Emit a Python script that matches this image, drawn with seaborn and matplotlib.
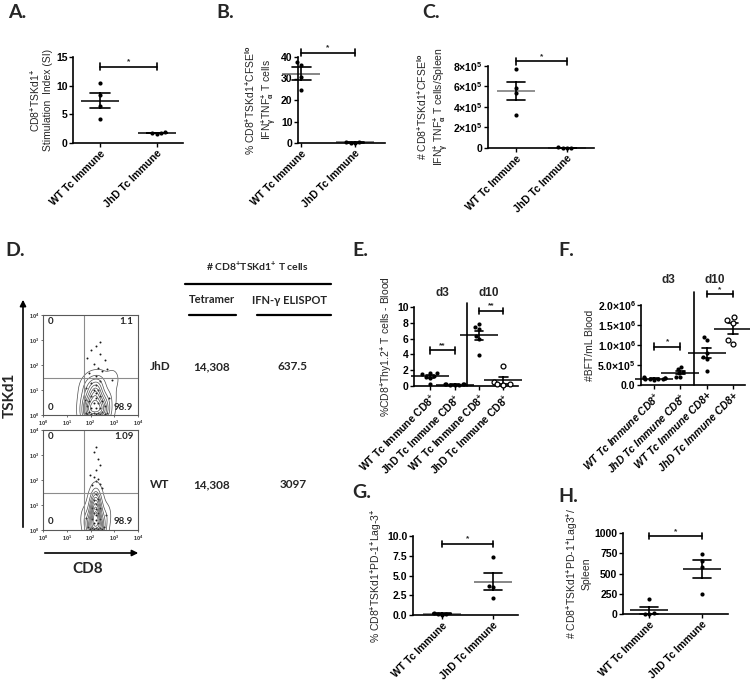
import numpy as np
import pandas as pd
import seaborn as sns
import matplotlib.pyplot as plt
from matplotlib.lines import Line2D
from matplotlib.patches import FancyArrowPatch
import matplotlib.transforms as mtrans

sns.set_theme(style="ticks")
plt.rcParams['font.family'] = ['Liberation Sans', 'DejaVu Sans']
plt.rcParams['font.weight'] = 'bold'
plt.rcParams['mathtext.fontset'] = 'custom'
plt.rcParams['mathtext.rm'] = 'Liberation Sans:bold'
plt.rcParams['mathtext.bf'] = 'Liberation Sans:bold'
plt.rcParams['mathtext.it'] = 'Liberation Sans:bold:italic'
plt.rcParams['mathtext.default'] = 'rm'

W, H = 750, 686
CALIBRI_LIKE = ['Lato', 'DejaVu Sans']

# ---- data ----
groups2 = ["WT Tc Immune", "JhD Tc Immune"]
si_wt = [10.4, 8.4, 6.5, 4.2]
si_jhd = [1.9, 1.8, 1.7, 1.6]
ifn_pct_wt = [37.5, 36.5, 30.5, 24.5]
ifn_pct_jhd = [0.2, 0.1, 0.3, 0.5]
ifn_num_wt = [7.7e5, 5.85e5, 5.4e5, 3.25e5]
ifn_num_jhd = [2e3, 1e3, 3e3, 5e3]

groups4 = ["WT d3", "JhD d3", "WT d10", "JhD d10"]
e_labels = ["WT Tc Immune CD8$^{+}$", "JhD Tc Immune CD8$^{+}$",
            "WT Tc Immune CD8$^{+}$", "JhD Tc Immune CD8$^{+}$"]
f_labels = ["WT Tc Immune CD8$^{+}$", "JhD Tc Immune CD8$^{+}$",
            "WT Tc Immune CD8+", "JhD Tc Immune CD8+"]
e_wt_d3 = [1.7, 1.6, 1.5, 1.3, 1.2, 1.0, 0.3]
e_jhd_d3 = [0.25, 0.2, 0.2, 0.2, 0.15, 0.15, 0.1]
e_wt_d10 = [7.8, 7.5, 7.2, 6.3, 5.9, 3.9]
e_jhd_d10 = [2.5, 0.5, 0.3, 0.2, 0.1]
f_wt_d3 = [1.9e5, 1.8e5, 1.7e5, 1.7e5, 1.6e5, 1.5e5, 1.5e5, 1.4e5, 1.3e5]
f_jhd_d3 = [4.6e5, 3.9e5, 3.3e5, 2.9e5, 2.0e5, 1.9e5]
f_wt_d10 = [1.21e6, 1.12e6, 0.79e6, 0.69e6, 0.64e6, 0.36e6]
f_jhd_d10 = [1.7e6, 1.62e6, 1.55e6, 1.12e6, 1.02e6]

g_wt = [0.3, 0.15, 0.1, 0.05]
g_jhd = [7.35, 3.7, 3.6, 2.2]
h_wt = [180, 10, 5, 0]
h_jhd = [744, 660, 578, 244]

# flow cytometry events (log10 CD8, log10 TSKd1)
jhd_cd8 = [1.84, 2.03, 2.22, 2.41, 2.6, 2.13, 2.32, 1.94, 2.5, 1.8, 2.7,
           2.03, 2.22, 2.41, 1.84, 2.6, 2.13, 2.32, 1.94, 2.5, 2.22, 2.03,
           2.41, 2.22, 2.13, 2.32, 2.22, 2.03, 2.41, 1.78, 2.79, 2.22, 1.94,
           2.5, 2.32, 2.13, 2.6, 1.84, 2.41, 2.03, 2.7, 2.22, 2.9, 1.8, 2.41]
jhd_tsk = [0.05, 0.05, 0.05, 0.05, 0.05, 0.1, 0.1, 0.12, 0.12, 0.08, 0.1,
           0.3, 0.3, 0.3, 0.35, 0.35, 0.5, 0.5, 0.55, 0.55, 0.7, 0.75, 0.75,
           0.9, 1.0, 1.0, 1.2, 1.3, 1.35, 0.6, 0.7, 1.55, 1.7, 1.75, 1.9,
           2.05, 2.2, 2.3, 2.45, 2.6, 1.85, 2.75, 1.4, 1.1, 2.9]
wt_cd8 = [1.97, 2.13, 2.3, 2.47, 2.22, 2.05, 2.39, 1.88, 2.56, 2.13, 2.3,
          2.22, 2.05, 2.39, 2.22, 2.13, 2.3, 2.22, 2.05, 2.39, 2.22, 2.13,
          2.3, 2.22, 2.05, 2.39, 2.22, 2.3, 2.13, 2.47, 1.97, 2.22, 2.39,
          2.3, 2.13, 2.22, 1.8, 2.65]
wt_tsk = [0.05, 0.05, 0.05, 0.05, 0.08, 0.1, 0.1, 0.12, 0.12, 0.3, 0.3, 0.4,
          0.45, 0.45, 0.6, 0.7, 0.7, 0.85, 0.9, 0.9, 1.05, 1.2, 1.25, 1.45,
          1.8, 1.85, 1.95, 2.05, 2.1, 1.7, 2.2, 2.4, 2.6, 2.85, 3.1, 3.3,
          0.5, 0.6]
jhd_quadrants = ["0", "1.1", "0", "98.9"]
wt_quadrants = ["0", "1.09", "0", "98.9"]
table_rows = ["JhD", "WT"]
tetramer_counts = ["14,308", "14,308"]
elispot_counts = ["637.5", "3097"]


def frame(keys, series):
    rows = [(k, v) for k, vals in zip(keys, series) for v in vals]
    return pd.DataFrame(rows, columns=["group", "value"])


fig = plt.figure(figsize=(W / 100, H / 100), dpi=100)


def px_axes(l, t, r, b):
    return fig.add_axes([l / W, 1 - b / H, (r - l) / W, (b - t) / H])


def ftext(x, y, s, **kw):
    fig.text(x / W, 1 - y / H, s, **kw)


def dot_panel(ax, df, order, mean_color="black", open_groups=()):
    solid = df[~df.group.isin(open_groups)]
    sns.swarmplot(data=solid, x="group", y="value", order=order, color="black",
                  size=3, ax=ax)
    if open_groups:
        sns.swarmplot(data=df[df.group.isin(open_groups)], x="group", y="value",
                      order=order, color="white", edgecolor="black",
                      linewidth=0.9, size=3.5, ax=ax)
    sns.pointplot(data=df, x="group", y="value", order=order, errorbar="se",
                  capsize=0.35, linestyle="none", marker="_", markersize=28,
                  markeredgewidth=1.1, color=mean_color,
                  err_kws={"color": "black", "linewidth": 1.2}, ax=ax)


def style(ax, xlim, ylim, yticks, yticklabels, xlabels, ylabel, italic=False):
    ax.set_xlim(xlim)
    ax.set_ylim(ylim)
    ax.set_yticks(yticks)
    ax.set_yticklabels(yticklabels)
    ax.set_xticks(range(len(xlabels)))
    ax.set_xticklabels(xlabels, rotation=45, ha="right", rotation_mode="anchor",
                       fontstyle="italic" if italic else "normal")
    sns.despine(ax=ax)
    for s in ("left", "bottom"):
        ax.spines[s].set_linewidth(1.2)
        ax.spines[s].set_color("black")
    ax.tick_params(length=3, width=1, labelsize=7.5, pad=1, colors="black")
    ax.set_xlabel("")
    ax.set_ylabel(ylabel, fontsize=7.5, labelpad=2)
    for art in list(ax.collections) + list(ax.lines):
        art.set_clip_on(False)


def bracket(ax, x0, x1, y, label):
    lo, hi = ax.get_ylim()
    h = 0.04 * (hi - lo)
    kw = dict(color="black", lw=1.2, clip_on=False)
    ax.plot([x0, x1], [y, y], **kw)
    ax.plot([x0, x0], [y - h, y + h], **kw)
    ax.plot([x1, x1], [y - h, y + h], **kw)
    ax.text((x0 + x1) / 2, y + 0.4 * h, label, ha="center", va="bottom", fontsize=6)


def day_split(ax, top, y_lab, x3, x10):
    ax.axvline(1.5, ymin=0, ymax=top, color="black", lw=1.2, clip_on=False)
    tr = mtrans.blended_transform_factory(ax.transData, ax.transAxes)
    ax.text(x3, y_lab, "d3", transform=tr, ha="center", va="center", fontsize=8.5)
    ax.text(x10, y_lab, "d10", transform=tr, ha="center", va="center", fontsize=8.5)


# ---- A ----
ax = px_axes(73, 57, 183, 143)
dot_panel(ax, frame(groups2, [si_wt, si_jhd]), groups2)
style(ax, (-0.47, 1.46), (0, 15), [0, 5, 10, 15], ["0", "5", "10", "15"], groups2,
      "CD8$^{+}$TSKd1$^{+}$\nStimulation  Index (SI)")
bracket(ax, 0, 1, 13.3, "*")

# ---- B ----
ax = px_axes(298, 57, 385, 143)
dot_panel(ax, frame(groups2, [ifn_pct_wt, ifn_pct_jhd]), groups2, mean_color="0.4")
style(ax, (-0.06, 1.56), (0, 40), [0, 10, 20, 30, 40], ["0", "10", "20", "30", "40"],
      groups2, "% CD8$^{+}$TSKd1$^{+}$CFSE$^{lo}$\nIFN$_{\\gamma}^{+}$TNF$_{\\alpha}^{+}$ T cells")
bracket(ax, 0, 1, 42, "*")

# ---- C ----
ax = px_axes(488, 66, 594, 148)
dot_panel(ax, frame(groups2, [ifn_num_wt, ifn_num_jhd]), groups2, mean_color="0.45")
style(ax, (-0.55, 1.53), (0, 8e5), [0, 2e5, 4e5, 6e5, 8e5],
      ["0", "2×10$^{5}$", "4×10$^{5}$", "6×10$^{5}$", "8×10$^{5}$"], groups2,
      "# CD8$^{+}$TSKd1$^{+}$CFSE$^{lo}$\nIFN$_{\\gamma}^{+}$ TNF$_{\\alpha}^{+}$ T cells/Spleen")
bracket(ax, 0, 1, 8.45e5, "*")

# ---- E ----
ax = px_axes(414, 307, 518, 386)
dot_panel(ax, frame(groups4, [e_wt_d3, e_jhd_d3, e_wt_d10, e_jhd_d10]), groups4,
          open_groups=("JhD d10",))
style(ax, (-0.66, 3.6), (0, 10), [0, 2, 4, 6, 8, 10], ["0", "2", "4", "6", "8", "10"],
      e_labels, "%CD8$^{+}$Thy1.2$^{+}$ T cells - Blood")
bracket(ax, 0, 1, 4.5, "**")
bracket(ax, 2, 3, 9.5, "**")
day_split(ax, 1.05, 1.18, 0.5, 2.4)

# ---- F ----
ax = px_axes(641, 305, 745, 385)
dot_panel(ax, frame(groups4, [f_wt_d3, f_jhd_d3, f_wt_d10, f_jhd_d10]), groups4,
          open_groups=("JhD d10",))
style(ax, (-0.5, 3.46), (0, 2e6), [0, 5e5, 1e6, 1.5e6, 2e6],
      ["0.0", "5.0×10$^{5}$", "1.0×10$^{6}$", "1.5×10$^{6}$", "2.0×10$^{6}$"],
      f_labels, "#BFT/mL Blood", italic=True)
bracket(ax, 0, 1, 0.96e6, "*")
bracket(ax, 2, 3, 2.27e6, "*")
day_split(ax, 1.16, 1.31, 0.53, 2.3)

# ---- G ----
ax = px_axes(413, 536, 518, 615)
dot_panel(ax, frame(groups2, [g_wt, g_jhd]), groups2, mean_color="0.4")
style(ax, (-0.57, 1.49), (0, 10), [0, 2.5, 5, 7.5, 10],
      ["0.0", "2.5", "5.0", "7.5", "10.0"], groups2,
      "% CD8$^{+}$TSKd1$^{+}$PD-1$^{+}$Lag-3$^{+}$")
bracket(ax, 0, 1, 9.0, "*")

# ---- H ----
ax = px_axes(623, 533, 728, 614)
dot_panel(ax, frame(groups2, [h_wt, h_jhd]), groups2)
style(ax, (-0.5, 1.5), (0, 1000), [0, 250, 500, 750, 1000],
      ["0", "250", "500", "750", "1000"], groups2,
      "# CD8$^{+}$TSKd1$^{+}$PD-1$^{+}$Lag3$^{+}$/\nSpleen")
bracket(ax, 0, 1, 960, "*")


# ---- D: flow plots ----
def flow_panel(ax, cd8, tsk, quads):
    ev = pd.DataFrame({"cd8": cd8, "tsk": tsk})
    core = ev[ev.tsk < 1.5]
    sns.kdeplot(data=core, x="cd8", y="tsk", levels=10, thresh=0.03, bw_adjust=1.2,
                color="0.3", linewidths=0.5, ax=ax)
    sns.scatterplot(data=ev, x="cd8", y="tsk", s=2, color="0.1", linewidth=0, ax=ax)
    ax.axvline(1.73, color="0.55", lw=0.8)
    ax.axhline(1.5, color="0.55", lw=0.8)
    ax.set_xlim(0, 4)
    ax.set_ylim(0, 4)
    dec = ["10$^{0}$", "10$^{1}$", "10$^{2}$", "10$^{3}$", "10$^{4}$"]
    ax.set_xticks(range(5))
    ax.set_xticklabels(dec)
    ax.set_yticks(range(5))
    ax.set_yticklabels(dec)
    ax.tick_params(length=1.5, width=0.5, labelsize=4, pad=1, colors="0.2")
    for s in ax.spines.values():
        s.set_linewidth(0.8)
        s.set_color("0.35")
    ax.set_xlabel("")
    ax.set_ylabel("")
    qk = dict(transform=ax.transAxes, fontsize=7, family=CALIBRI_LIKE)
    ax.text(0.05, 0.93, quads[0], ha="left", va="center", **qk)
    ax.text(0.95, 0.93, quads[1], ha="right", va="center", **qk)
    ax.text(0.05, 0.08, quads[2], ha="left", va="center", **qk)
    ax.text(0.95, 0.08, quads[3], ha="right", va="center", **qk)


flow_panel(px_axes(43, 315, 138, 415), jhd_cd8, jhd_tsk, jhd_quadrants)
flow_panel(px_axes(43, 430, 138, 530), wt_cd8, wt_tsk, wt_quadrants)

tf = fig.transFigure
fig.add_artist(FancyArrowPatch((23 / W, 1 - 530 / H), (23 / W, 1 - 297 / H), transform=tf,
                               arrowstyle="-|>", mutation_scale=9, lw=1.2, color="black"))
fig.add_artist(FancyArrowPatch((42 / W, 1 - 553 / H), (141 / W, 1 - 553 / H), transform=tf,
                               arrowstyle="-|>", mutation_scale=9, lw=1.2, color="black"))
ftext(10, 395, "TSKd1", rotation=90, ha="center", va="center", fontsize=11, family=CALIBRI_LIKE)
ftext(88, 569, "CD8", ha="center", va="center", fontsize=11, family=CALIBRI_LIKE)

# ---- D: table ----
tk = dict(ha="center", va="center", family=CALIBRI_LIKE)
ftext(257, 266, "# CD8$^{+}$TSKd1$^{+}$ T cells", fontsize=7.5, **tk)
fig.add_artist(Line2D([185 / W, 331 / W], [1 - 284 / H] * 2, transform=tf, color="black", lw=1.6))
ftext(212, 299, "Tetramer", fontsize=8, **tk)
ftext(290, 300, "IFN-γ ELISPOT", fontsize=8, **tk)
fig.add_artist(Line2D([189 / W, 236 / W], [1 - 315 / H] * 2, transform=tf, color="black", lw=1.6))
fig.add_artist(Line2D([257 / W, 331 / W], [1 - 315 / H] * 2, transform=tf, color="black", lw=1.6))
for y, name, tet, eli in zip([367, 485], table_rows, tetramer_counts, elispot_counts):
    ftext(160, y, name, fontsize=8.5, **tk)
    ftext(212, y, tet, fontsize=8.5, **tk)
    ftext(293, y, eli, fontsize=8.5, **tk)

# ---- panel letters ----
for x, y, s in [(8, 13, "A."), (216, 13, "B."), (422, 13, "C."), (5, 250, "D."),
                (352, 250, "E."), (558, 251, "F."), (352, 493, "G."), (558, 497, "H.")]:
    ftext(x, y, s, ha="left", va="center", fontsize=14, family=CALIBRI_LIKE)

fig.savefig("out.png", dpi=100)
